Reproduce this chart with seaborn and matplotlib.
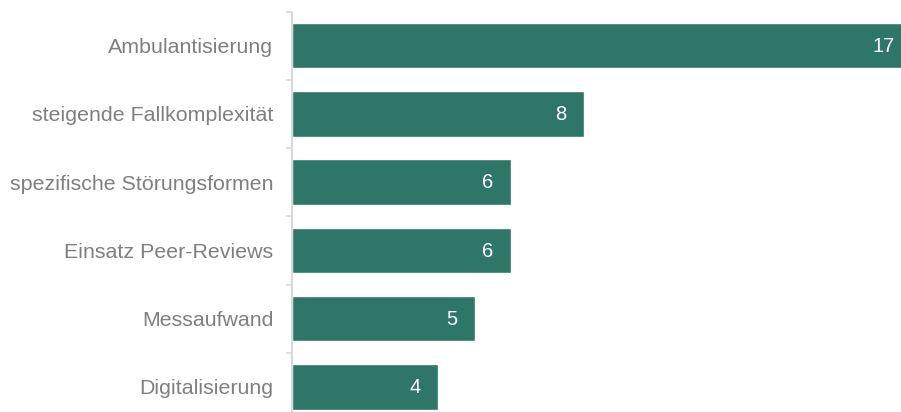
import matplotlib
matplotlib.use("Agg")
import matplotlib.pyplot as plt
import seaborn as sns
import pandas as pd
import numpy as np

categories = ["Ambulantisierung", "steigende Fallkomplexität", "spezifische Störungsformen",
              "Einsatz Peer-Reviews", "Messaufwand", "Digitalisierung"]
values = [17, 8, 6, 6, 5, 4]

sns.set_theme(style="white")
plt.rcParams['font.family'] = ['Liberation Sans', 'DejaVu Sans']

bar_color = "#2E7767"
text_gray = "#7F7F7F"
spine_gray = "#D9D9D9"

df = pd.DataFrame({"cat": categories, "val": values})

fig = plt.figure(figsize=(9.01, 4.12), dpi=100)
ax = fig.add_axes([292/901, -9/412, 609/901, 409.5/412])

sns.barplot(data=df, x="val", y="cat", orient="h", color=bar_color,
            saturation=1, width=0.67, ax=ax)

ax.set_xlim(0, 609/36.5)
ax.set_ylim(len(categories) - 0.5, -0.5)
ax.set_xlabel("")
ax.set_ylabel("")
ax.set_xticks([])

for s in ["top", "right", "bottom"]:
    ax.spines[s].set_visible(False)
ax.spines["left"].set_color(spine_gray)
ax.spines["left"].set_linewidth(1.5)

ax.set_yticks(np.arange(len(categories)))
ax.set_yticklabels(categories)
ax.set_yticks(np.arange(len(categories) + 1) - 0.5, minor=True)
ax.tick_params(axis="y", which="major", length=0, pad=13.5, labelsize=15.4, labelcolor=text_gray)
ax.tick_params(axis="y", which="minor", length=4.3, width=1.2, color=spine_gray, left=True)

for i, v in enumerate(values):
    ax.annotate(str(v), xy=(v, i), xytext=(-12.5, -0.5), textcoords="offset points",
                ha="right", va="center", color="white", fontsize=14.5,
                annotation_clip=False)

fig.savefig("out.png", dpi=100)
